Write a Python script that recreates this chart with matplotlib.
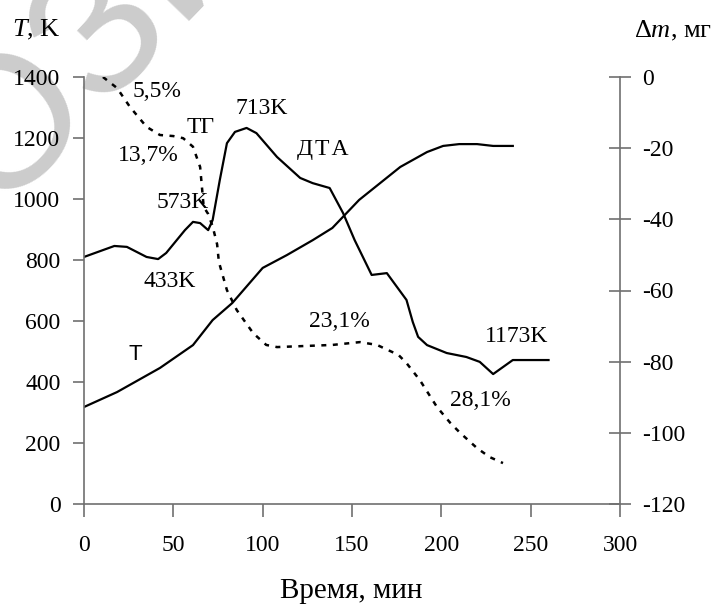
import matplotlib
matplotlib.use("Agg")
import matplotlib.pyplot as plt

plt.rcParams["mathtext.fontset"] = "custom"
plt.rcParams["mathtext.rm"] = "Liberation Serif"
plt.rcParams["mathtext.it"] = "Liberation Serif:italic"
plt.rcParams["axes.unicode_minus"] = False

# ---- data ----
t_T = [0, 18.5, 42.5, 61, 72, 83, 100, 113.5, 128, 139, 154, 177, 192, 201, 210, 220, 229, 240]
T_vals = [318, 367, 446, 521, 603, 659, 774, 816, 865, 905, 997, 1105, 1154, 1174, 1180, 1180, 1174, 1174]

t_dta = [0, 17, 24, 35, 41.5, 46, 56.5, 61, 65, 69.5, 72, 76, 80, 84.5, 91, 96.5, 108, 121, 128,
         137.5, 145, 151.5, 161, 169.5, 180.5, 184, 187, 192, 203, 214, 221.5, 229, 240, 260]
dta_vals = [810, 846, 843, 810, 803, 823, 898, 925, 921, 898, 931, 1062, 1183, 1220, 1233, 1216, 1138,
            1069, 1052, 1036, 954, 865, 751, 757, 669, 597, 548, 521, 495, 482, 466, 426, 472, 472]

t_tg = [10.6, 18.5, 25.7, 35, 42.5, 50, 55.5, 61, 65, 66, 67, 69.5, 72, 74.5, 75.5, 80, 85.5, 94.7,
        102, 108, 139, 154.5, 164, 176, 180.5, 188, 197.5, 205, 210.5, 220, 227, 234.5]
tg_vals = [0, -3.1, -8.4, -14, -16.3, -16.6, -17.2, -19.6, -25.3, -30.9, -36.5, -38.5, -42, -47, -52,
           -59.9, -65.5, -72, -75.3, -75.9, -75.3, -74.5, -75.3, -78.1, -80.4, -85.2, -92.7, -97.2,
           -100, -104.3, -106.8, -108.5]

x_ticks = [0, 50, 100, 150, 200, 250, 300]
y_ticks = [0, 200, 400, 600, 800, 1000, 1200, 1400]
y2_ticks = [0, -20, -40, -60, -80, -100, -120]

annotations = [
    ("5,5%", 40.9, 1351), ("ТГ", 65, 1236), ("713K", 99.6, 1298), ("Д\u200aТ\u200aА", 133.7, 1161),
    ("13,7%", 35.8, 1144), ("573K", 55.4, 987), ("433K", 48, 728), ("23,1%", 143, 597),
    ("1173K", 242, 548), ("28,1%", 222, 338),
]

W, H = 721, 606
serif = ["Liberation Serif", "DejaVu Serif"]
fs = 17
afs = 17
gray = "#707070"

fig = plt.figure(figsize=(W / 100, H / 100), dpi=100)

# watermark (partially visible in the reference too)
wm = fig.text(50 / W, 1 - 80 / H, "ПОЗИ", fontsize=135, color="#cccccc", family="Liberation Sans",
              rotation=46, ha="center", va="center", rotation_mode="anchor")
wm.set_zorder(-10)

ax = fig.add_axes([84 / W, 1 - 504 / H, (620 - 84) / W, (504 - 77) / H])
ax.patch.set_alpha(0)
ax2 = ax.twinx()
ax2.patch.set_alpha(0)

ax.plot(t_T, T_vals, color="black", lw=1.6)
ax.plot(t_dta, dta_vals, color="black", lw=1.6)
ax2.plot(t_tg, tg_vals, color="black", lw=1.8, linestyle=(0, (2, 2.6)))

ax.set_xlim(0, 300)
ax.set_ylim(0, 1400)
ax2.set_ylim(-120, 0)

ax.set_xticks(x_ticks)
ax.set_yticks(y_ticks)
ax2.set_yticks(y2_ticks)

for a in (ax, ax2):
    for s in a.spines.values():
        s.set_color(gray)
        s.set_linewidth(1.2)
    a.spines["top"].set_visible(False)
ax.spines["right"].set_visible(False)
ax2.spines["left"].set_visible(False)
ax2.spines["bottom"].set_visible(False)

ax.tick_params(axis="x", direction="out", length=9, width=1.2, color=gray, pad=13,
               labelsize=fs, labelfontfamily="Liberation Serif")
ax.tick_params(axis="y", direction="out", length=8, width=1.2, color=gray, pad=9,
               labelsize=fs, labelfontfamily="Liberation Serif")
ax2.tick_params(axis="y", direction="inout", length=16, width=1.2, color=gray, pad=8,
                labelsize=fs, labelfontfamily="Liberation Serif")

for txt, x, y in annotations:
    ax.text(x, y, txt, fontsize=afs, family=serif, ha="center", va="center")
ax.text(28.5, 489, "T", fontsize=16, family="Liberation Sans", ha="center", va="center")

fig.text(12 / W, 1 - 30 / H, "$T$, K", fontsize=19, family=serif, ha="left", va="center")
fig.text(634 / W, 1 - 31 / H, "Δ$m$, мг", fontsize=19, family=serif, ha="left", va="center")
fig.text(351 / W, 1 - 598 / H, "Время, мин", fontsize=21, family=serif, ha="center", va="baseline")

fig.savefig("out.png", dpi=100)
